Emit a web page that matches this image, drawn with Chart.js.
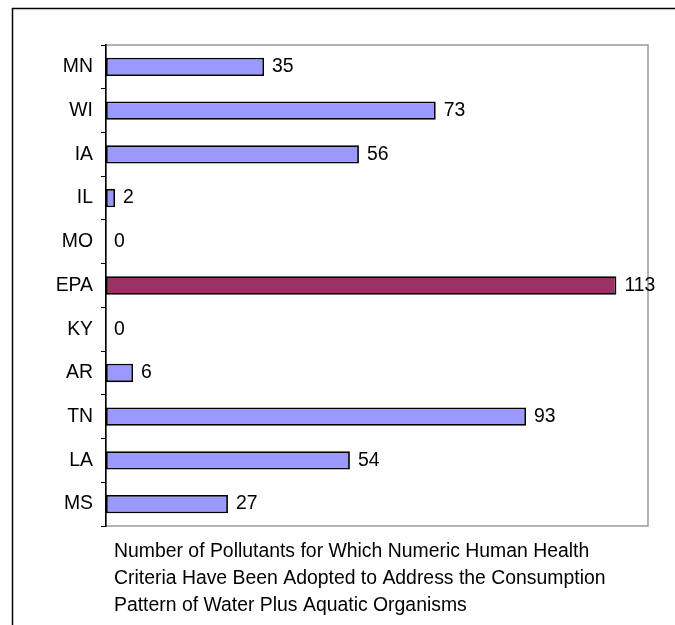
<!DOCTYPE html>
<html>
<head>
<meta charset="utf-8">
<script src="https://cdn.jsdelivr.net/npm/chart.js@4/dist/chart.umd.min.js"></script>
<style>
  html, body { margin: 0; padding: 0; background: #ffffff; }
  #wrap { width: 675px; height: 625px; position: relative; }
</style>
</head>
<body>
<div id="wrap"><canvas id="chart" width="675" height="625"></canvas></div>
<script>
// States (and EPA) along the river, top to bottom
const categories = ['MN', 'WI', 'IA', 'IL', 'MO', 'EPA', 'KY', 'AR', 'TN', 'LA', 'MS'];
// Number of pollutants with adopted human health criteria
const pollutantCounts = [35, 73, 56, 2, 0, 113, 0, 6, 93, 54, 27];
// Category drawn in the contrasting colour
const referenceCategory = 'EPA';
// Caption under the plot
const captionLines = [
  'Number of Pollutants for Which Numeric Human Health',
  'Criteria Have Been Adopted to Address the Consumption',
  'Pattern of Water Plus Aquatic Organisms'
];

const FONT_FAMILY = '"Liberation Sans", Arial, Helvetica, sans-serif';
const FONT_SIZE = 19.4;

// Outer frame, plot border and caption
const decorations = {
  id: 'decorations',
  beforeDraw(chart) {
    const { ctx, chartArea: a, width, height } = chart;
    ctx.save();
    // outer frame (left and top edges)
    ctx.strokeStyle = '#000000';
    ctx.lineWidth = 1.5;
    ctx.beginPath();
    ctx.moveTo(12.5, height + 2);
    ctx.lineTo(12.5, 8.5);
    ctx.lineTo(width + 2, 8.5);
    ctx.stroke();
    // plot area border
    ctx.strokeStyle = '#9a9a9a';
    ctx.lineWidth = 1.5;
    ctx.strokeRect(a.left, a.top, a.right - a.left, a.bottom - a.top);
    // caption
    ctx.fillStyle = '#000000';
    ctx.font = FONT_SIZE + 'px ' + FONT_FAMILY;
    ctx.textAlign = 'left';
    ctx.textBaseline = 'alphabetic';
    captionLines.forEach((line, i) => {
      ctx.fillText(line, 114, a.bottom + 31 + i * 27);
    });
    ctx.restore();
  }
};

// Value labels at the end of each bar
const valueLabels = {
  id: 'valueLabels',
  afterDatasetsDraw(chart) {
    const { ctx } = chart;
    const meta = chart.getDatasetMeta(0);
    ctx.save();
    ctx.fillStyle = '#000000';
    ctx.font = FONT_SIZE + 'px ' + FONT_FAMILY;
    ctx.textAlign = 'left';
    ctx.textBaseline = 'middle';
    meta.data.forEach((bar, i) => {
      ctx.fillText(String(pollutantCounts[i]), bar.x + 8, bar.y);
    });
    ctx.restore();
  }
};

new Chart(document.getElementById('chart'), {
  type: 'bar',
  data: {
    labels: categories,
    datasets: [{
      data: pollutantCounts,
      backgroundColor: categories.map(c => c === referenceCategory ? '#993366' : '#9999ff'),
      borderColor: '#000000',
      borderWidth: 1.8,
      borderSkipped: false,
      barPercentage: 1,
      categoryPercentage: 0.42
    }]
  },
  options: {
    indexAxis: 'y',
    responsive: false,
    animation: false,
    layout: { padding: { left: 0, top: 45, right: 27, bottom: 99 } },
    plugins: {
      legend: { display: false },
      tooltip: { enabled: false }
    },
    scales: {
      x: {
        type: 'linear',
        min: 0,
        max: 120,
        display: false
      },
      y: {
        type: 'category',
        position: 'left',
        offset: true,
        grid: {
          offset: true,
          drawOnChartArea: false,
          drawTicks: true,
          tickLength: 5,
          color: '#000000',
          lineWidth: 1
        },
        border: { display: true, color: '#000000', width: 1.5 },
        ticks: {
          color: '#000000',
          padding: 8,
          font: { family: FONT_FAMILY, size: FONT_SIZE }
        },
        afterFit(scale) { scale.width = 106; }
      }
    }
  },
  plugins: [decorations, valueLabels]
});
</script>
</body>
</html>
